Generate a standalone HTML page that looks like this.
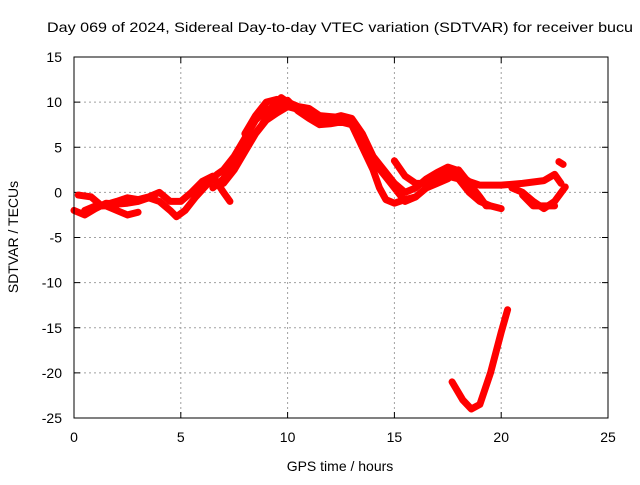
<!DOCTYPE html>
<html><head><meta charset="utf-8"><style>
body{margin:0;background:#fff}
text{font-family:"Liberation Sans",sans-serif;font-size:14px;fill:#000}
</style></head><body>
<svg id="c" width="640" height="480">
<text x="47" y="32" textLength="586" lengthAdjust="spacingAndGlyphs">Day 069 of 2024, Sidereal Day-to-day VTEC variation (SDTVAR) for receiver bucu</text>
<text x="340" y="471" text-anchor="middle">GPS time / hours</text>
<text transform="translate(18,237) rotate(-90)" text-anchor="middle">SDTVAR / TECUs</text>
<g id="grid"></g><g id="marks"></g>
<rect x="74" y="57" width="534" height="361" fill="none" stroke="#000" stroke-width="1"/>
</svg>
<script>
const xTicks=[0,5,10,15,20,25];
const yTicks=[15,10,5,0,-5,-10,-15,-20,-25];
const track1=[[0,-2],[0.5,-2.5],[1,-1.8],[1.5,-1.2],[2,-1.3],[2.5,-1.2],[3,-1],[3.5,-0.6],[4,-1],[4.5,-2],[4.8,-2.7],[5.2,-2],[5.7,-0.5],[6.2,0.8],[6.7,2],[7,2.5],[7.5,4],[8,6],[8.5,8],[9,9.2],[9.5,9.5],[10,10.2],[10.5,9],[11,8.2],[11.5,7.5],[12,7.6],[12.5,7.8],[13,7.5],[13.5,5],[14,2.5],[14.3,0.5],[14.6,-0.8],[15,-1.2],[15.5,-0.8],[16,-0.5]];
const track2=[[0.2,-0.3],[0.8,-0.5],[1.3,-1.5],[2,-1],[2.5,-0.6],[3,-0.8],[3.5,-0.5],[4,0],[4.5,-1],[5,-1],[5.5,0],[6,1.2],[6.5,1.8],[7,0],[7.3,-1]];
const track3=[[0.5,-2],[1,-1.5],[1.5,-1.5],[2,-2],[2.5,-2.5],[3,-2.2]];
const track4=[[6.5,0.5],[7,1.5],[7.5,3.5],[8,5],[8.8,7.5],[9.3,9.5],[9.7,10.5],[10,10],[10.5,9.5],[11,9.3],[11.5,8.5],[12,8.4],[12.5,8.3],[13,8],[13.5,6],[14,3.5],[14.5,2],[15,0.5],[15.5,-1],[16,-0.5],[16.5,0.5],[17,1],[17.5,1.5],[18,2.5],[18.5,1],[19,-0.5],[19.3,-1.5],[19.5,-1.5]];
const track5=[[15,3.5],[15.5,1.8],[16,1],[16.5,1],[17,2],[17.5,2.5],[18,2],[18.5,1.2],[19,0.8],[20,0.8],[21,1],[22,1.3],[22.5,2],[22.8,1]];
const track6=[[16.5,1.2],[17,1.5],[17.5,1.8],[18,1.5],[18.5,0],[19,-1],[19.5,-1.5],[20,-1.8]];
const track7=[[20.5,0.5],[21,0],[21.5,-1],[22,-1.8],[22.5,-1],[23,0.6]];
const track8=[[21,-0.3],[21.5,-1.5],[22,-1.5],[22.5,-1.5]];
const track9=[[17.7,-21],[18.2,-23],[18.6,-24],[19,-23.5],[19.5,-20],[20,-15.5],[20.3,-13]];
const track10=[[22.7,3.4],[22.9,3.1]];
const track11=[[7,1],[7.5,2.5],[8,4.5],[8.5,6.5],[9,8],[9.5,8.8],[10,9.5],[10.5,9.2],[11,8.6],[11.5,8],[12,8.2],[12.5,8.5],[13,8.2],[13.5,6.5],[14,4],[14.5,2.5],[15,1],[15.5,0],[16,0.5],[16.5,1.5],[17,2.2],[17.5,2.8],[18,2.4]];
const track12=[[8,6.5],[8.5,8.5],[9,10],[9.5,10.3]];
const tracks=[track1,track2,track3,track4,track5,track6,track7,track8,track9,track10,track11,track12];
const X=v=>74+v*534/25, Y=v=>57+(15-v)*361/40;
const NS='http://www.w3.org/2000/svg';
const g=document.getElementById('grid'), m=document.getElementById('marks');
function mk(t,a,p){const e=document.createElementNS(NS,t);for(const k in a)e.setAttribute(k,a[k]);p.appendChild(e);return e;}
xTicks.forEach(t=>{
 if(t>0&&t<25){const l=mk('line',{x1:X(t),x2:X(t),y1:57,y2:418,stroke:'#a0a0a0','stroke-dasharray':'2,3'},g);
 
 }
 mk('line',{x1:X(t),x2:X(t),y1:418,y2:412,stroke:'#000'},g);
 mk('line',{x1:X(t),x2:X(t),y1:57,y2:63,stroke:'#000'},g);
 const tx=mk('text',{x:X(t),y:442,'text-anchor':'middle'},g);tx.textContent=t;
 
 
});
yTicks.forEach(t=>{
 if(t<15&&t>-25){const l=mk('line',{x1:74,x2:608,y1:Y(t),y2:Y(t),stroke:'#a0a0a0','stroke-dasharray':'2,3'},g);
 
 }
 mk('line',{x1:74,x2:80,y1:Y(t),y2:Y(t),stroke:'#000'},g);
 mk('line',{x1:602,x2:608,y1:Y(t),y2:Y(t),stroke:'#000'},g);
 const tx=mk('text',{x:62,y:Y(t)+5,'text-anchor':'end'},g);tx.textContent=t;
 
 
});
tracks.forEach((tr,i)=>{
 const p=mk('polyline',{points:tr.map(d=>X(d[0])+','+Y(d[1])).join(' '),fill:'none',stroke:'#ff0000','stroke-width':7,'stroke-linejoin':'round','stroke-linecap':'round'},m);
 
 
});
</script>
</body></html>
